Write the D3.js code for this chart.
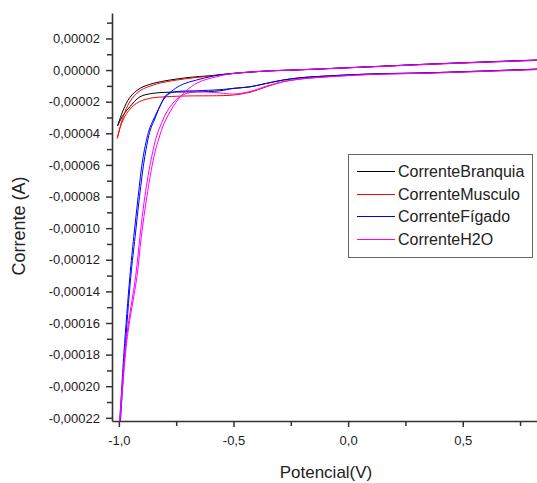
<!DOCTYPE html>
<html>
<head>
<meta charset="utf-8">
<script src="https://cdn.jsdelivr.net/npm/d3@7"></script>
<style>
  body { margin: 0; background: #fff; }
  svg { display: block; font-family: Arial, "Liberation Sans", sans-serif; }
</style>
</head>
<body>
<svg id="chart" width="537" height="483"></svg>
<script>
// curvas [potencial (V), corrente (A)] lidas do gráfico
// ramo inferior (ida) e ramo superior (volta) de cada voltamograma
const branquiaIda = [
  [-1.006, -3.54e-5], [-0.981, -2.84e-5], [-0.952, -2.32e-5], [-0.908, -1.69e-5], [-0.850, -1.47e-5],
  [-0.748, -1.39e-5], [-0.661, -1.38e-5], [-0.559, -1.31e-5], [-0.501, -1.16e-5], [-0.428, -1.06e-5],
  [-0.356, -0.84e-5], [-0.283, -0.63e-5], [-0.210, -0.49e-5], [-0.123, -0.40e-5], [0.095, -0.25e-5],
  [0.357, -0.17e-5], [0.824, 0.06e-5]
];
const branquiaVolta = [
  [0.824, 0.63e-5], [0.357, 0.38e-5], [0.095, 0.21e-5], [-0.210, 0.02e-5], [-0.356, -0.06e-5],
  [-0.501, -0.21e-5], [-0.603, -0.36e-5], [-0.690, -0.46e-5], [-0.777, -0.63e-5], [-0.850, -0.84e-5],
  [-0.908, -1.16e-5], [-0.952, -1.73e-5], [-0.981, -2.53e-5], [-1.006, -3.54e-5]
];
const musculoIda = [
  [-1.007, -4.32e-5], [-0.991, -3.48e-5], [-0.966, -2.74e-5], [-0.923, -2.10e-5], [-0.865, -1.79e-5],
  [-0.792, -1.69e-5], [-0.705, -1.64e-5], [-0.559, -1.62e-5], [-0.501, -1.58e-5], [-0.428, -1.41e-5],
  [-0.356, -1.055e-5], [-0.283, -0.74e-5], [-0.210, -0.57e-5], [-0.123, -0.46e-5], [0.095, -0.28e-5],
  [0.357, -0.19e-5], [0.824, 0.03e-5]
];
const musculoVolta = [
  [0.824, 0.61e-5], [0.357, 0.36e-5], [0.095, 0.20e-5], [-0.210, 0.01e-5], [-0.356, -0.07e-5],
  [-0.501, -0.22e-5], [-0.603, -0.38e-5], [-0.748, -0.63e-5], [-0.836, -0.885e-5], [-0.908, -1.31e-5],
  [-0.952, -2.00e-5], [-0.981, -2.95e-5], [-1.007, -4.32e-5]
];
const figadoIda = [
  [-0.996, -22.2e-5], [-0.978, -17.90e-5], [-0.952, -13.06e-5], [-0.935, -10.53e-5], [-0.916, -8.01e-5],
  [-0.894, -5.48e-5], [-0.868, -3.79e-5], [-0.850, -3.16e-5], [-0.818, -2.20e-5], [-0.795, -1.60e-5],
  [-0.765, -1.40e-5], [-0.720, -1.33e-5], [-0.661, -1.31e-5], [-0.559, -1.24e-5], [-0.501, -1.16e-5],
  [-0.428, -1.06e-5], [-0.356, -0.84e-5], [-0.283, -0.63e-5], [-0.210, -0.49e-5], [-0.123, -0.40e-5],
  [0.095, -0.25e-5], [0.357, -0.17e-5], [0.824, 0.06e-5]
];
const figadoVolta = [
  [0.824, 0.64e-5], [0.357, 0.38e-5], [0.095, 0.21e-5], [-0.210, 0.02e-5], [-0.356, -0.06e-5],
  [-0.501, -0.21e-5], [-0.589, -0.38e-5], [-0.661, -0.63e-5], [-0.719, -0.885e-5], [-0.763, -1.26e-5],
  [-0.807, -1.90e-5], [-0.845, -3.16e-5], [-0.863, -3.79e-5], [-0.887, -5.48e-5], [-0.910, -8.01e-5],
  [-0.929, -10.53e-5], [-0.948, -13.06e-5], [-0.974, -17.90e-5], [-0.993, -22.2e-5]
];
const h2oIda = [
  [-0.997, -22.2e-5], [-0.966, -16.85e-5], [-0.927, -13.06e-5], [-0.908, -10.53e-5], [-0.887, -8.01e-5],
  [-0.857, -5.48e-5], [-0.834, -4.11e-5], [-0.812, -3.29e-5], [-0.791, -2.65e-5], [-0.764, -2.09e-5],
  [-0.729, -1.64e-5], [-0.677, -1.39e-5], [-0.559, -1.45e-5], [-0.501, -1.52e-5], [-0.428, -1.36e-5],
  [-0.356, -1.01e-5], [-0.283, -0.73e-5], [-0.210, -0.57e-5], [-0.123, -0.46e-5], [0.095, -0.28e-5],
  [0.357, -0.19e-5], [0.824, 0.04e-5]
];
const h2oVolta = [
  [0.824, 0.62e-5], [0.357, 0.37e-5], [0.095, 0.20e-5], [-0.210, 0.02e-5], [-0.356, -0.06e-5],
  [-0.501, -0.22e-5], [-0.574, -0.42e-5], [-0.655, -0.79e-5], [-0.708, -1.33e-5], [-0.747, -1.96e-5],
  [-0.777, -2.65e-5], [-0.804, -3.41e-5], [-0.825, -4.30e-5], [-0.847, -5.48e-5], [-0.878, -8.01e-5],
  [-0.902, -10.53e-5], [-0.921, -13.06e-5], [-0.963, -16.85e-5], [-0.995, -22.2e-5]
];

const seriesNames = ['CorrenteBranquia', 'CorrenteMusculo', 'CorrenteFígado', 'CorrenteH2O'];
const seriesColors = ['#000000', '#ff0000', '#0000ff', '#ff00ff'];
const seriesData = [
  [branquiaIda, branquiaVolta],
  [musculoIda, musculoVolta],
  [figadoIda, figadoVolta],
  [h2oIda, h2oVolta]
];

const xTicks = [-1.0, -0.5, 0.0, 0.5];
const xMinorTicks = [-0.75, -0.25, 0.25, 0.75];
const yTicks = [0.00002, 0, -0.00002, -0.00004, -0.00006, -0.00008, -0.0001, -0.00012,
  -0.00014, -0.00016, -0.00018, -0.0002, -0.00022];
const yMinorTicks = [0.00003, 0.00001, -0.00001, -0.00003, -0.00005, -0.00007, -0.00009, -0.00011,
  -0.00013, -0.00015, -0.00017, -0.00019, -0.00021];

// área do gráfico
const plotLeft = 112, plotRight = 540, plotTop = 13, plotBottom = 421;

const svg = d3.select('#chart');

const x = d3.scaleLinear().domain([-1.03, 0.837]).range([plotLeft, plotRight]);
const y = d3.scaleLinear().domain([-0.000222, 0.0000361]).range([plotBottom, plotTop]);

// formato com vírgula decimal
const locale = d3.formatLocale({ decimal: ',', thousands: '.', grouping: [3], currency: ['', ''], minus: '-' });
const fx = locale.format('.1f');
const fy = locale.format('.5f');

svg.append('clipPath').attr('id', 'plot')
  .append('rect').attr('x', plotLeft).attr('y', plotTop)
  .attr('width', plotRight - plotLeft).attr('height', plotBottom - plotTop);

// curvas
const line = d3.line()
  .x((d) => x(d[0]))
  .y((d) => y(d[1]))
  .curve(d3.curveCatmullRom.alpha(0.5));

const curves = svg.append('g').attr('clip-path', 'url(#plot)');
seriesData.forEach((branches, i) => {
  curves.selectAll(null)
    .data(branches)
    .join('path')
    .attr('fill', 'none')
    .attr('stroke', seriesColors[i])
    .attr('stroke-width', 1)
    .attr('d', line);
});

// eixo X
svg.append('g')
  .attr('transform', `translate(0,${plotBottom})`)
  .call(d3.axisBottom(x).tickValues(xMinorTicks).tickSize(5).tickFormat(''))
  .call((g) => g.select('.domain').remove());
svg.append('g')
  .attr('transform', `translate(0,${plotBottom})`)
  .call(d3.axisBottom(x).tickValues(xTicks).tickSize(6).tickSizeOuter(0).tickPadding(9).tickFormat(fx));

// eixo Y
svg.append('g')
  .attr('transform', `translate(${plotLeft},0)`)
  .call(d3.axisLeft(y).tickValues(yMinorTicks).tickSize(5).tickFormat(''))
  .call((g) => g.select('.domain').remove());
svg.append('g')
  .attr('transform', `translate(${plotLeft},0)`)
  .call(d3.axisLeft(y).tickValues(yTicks).tickSize(6).tickSizeOuter(0).tickPadding(6).tickFormat(fy));

svg.selectAll('.tick line').attr('stroke', '#333').attr('stroke-width', 1.5);
svg.selectAll('.domain').attr('stroke', '#333').attr('stroke-width', 1.6);
svg.selectAll('.tick text').attr('fill', '#222').attr('font-size', 13)
  .attr('font-family', 'Arial, "Liberation Sans", sans-serif');

// títulos dos eixos
svg.append('text')
  .attr('x', 326)
  .attr('y', 478)
  .attr('text-anchor', 'middle')
  .attr('font-size', 17)
  .attr('fill', '#222')
  .text('Potencial(V)');

svg.append('text')
  .attr('transform', 'rotate(-90)')
  .attr('x', -226)
  .attr('y', 25)
  .attr('text-anchor', 'middle')
  .attr('font-size', 18)
  .attr('fill', '#222')
  .text('Corrente (A)');

// legenda
const legend = svg.append('g');
legend.append('rect')
  .attr('x', 348.5).attr('y', 154.5)
  .attr('width', 184).attr('height', 103)
  .attr('fill', '#fff')
  .attr('stroke', '#666')
  .attr('stroke-width', 1);

const rows = legend.selectAll('g.row')
  .data(seriesNames)
  .join('g')
  .attr('class', 'row')
  .attr('transform', (d, i) => `translate(0,${Math.round(171 + i * 22.5) + 0.5})`);
rows.append('line')
  .attr('x1', 357).attr('x2', 395)
  .attr('stroke', (d) => seriesColors[seriesNames.indexOf(d)])
  .attr('stroke-width', 1);
rows.append('text')
  .attr('x', 398)
  .attr('dy', '0.35em')
  .attr('font-size', 16)
  .attr('fill', '#222')
  .text((d) => d);
</script>
</body>
</html>
